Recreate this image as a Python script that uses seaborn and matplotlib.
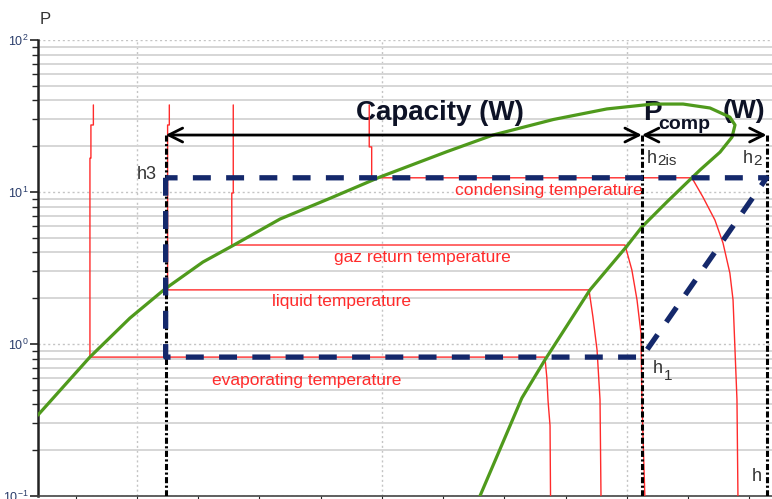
import numpy as np
import pandas as pd
import matplotlib
matplotlib.use('Agg')
import matplotlib.pyplot as plt
import seaborn as sns
from matplotlib.ticker import LogLocator, MultipleLocator, FixedLocator, NullFormatter

sns.set_style('white')
plt.rcParams['font.family'] = ['Liberation Sans', 'DejaVu Sans']

# Saturation curve (h in kJ/kg, P in bar)
dome_h = [159.6, 180.8, 197.1, 211.4, 226.9, 238.8, 258.4, 278.8, 299.2, 326.4, 345.3,
          370.0, 391.8, 410.6, 422.9, 433.9, 442.0, 444.1, 442.9, 438.0, 429.8, 416.3,
          406.1, 400.0, 384.9, 366.5, 357.1, 340.0]
dome_p = [0.341, 0.821, 1.48, 2.30, 3.46, 4.41, 6.64, 9.09, 12.55, 18.4, 23.7,
          30.0, 35.2, 37.9, 37.9, 35.7, 31.1, 27.6, 23.0, 18.3, 13.95, 8.60,
          5.89, 4.41, 2.27, 0.785, 0.441, 0.1]

# Isotherms
evap_h = [182.2, 182.2, 181.2, 181.2, 180.8, 180.8, 366.5, 367.3, 367.8, 368.6, 368.8]
evap_p = [37.4, 27.6, 27.6, 16.7, 16.7, 0.82, 0.82, 0.60, 0.42, 0.29, 0.1]
liq_h = [213.2, 213.2, 212.5, 212.5, 384.5, 386.1, 387.8, 389.0, 389.4]
liq_p = [37.4, 27.6, 27.6, 2.27, 2.27, 1.51, 0.91, 0.43, 0.1]
gaz_h = [239.3, 239.3, 238.7, 238.7, 399.2, 402.0, 404.1, 405.7, 406.1, 407.3]
gaz_p = [37.4, 9.85, 9.85, 4.48, 4.48, 3.07, 1.95, 1.18, 0.43, 0.1]
cond_h = [294.8, 294.8, 295.8, 295.8, 426.5, 431.0, 435.9, 439.2, 442.0, 443.3, 444.1, 444.9, 445.3]
cond_p = [37.4, 19.8, 19.8, 12.4, 12.4, 9.27, 6.54, 4.62, 2.93, 1.95, 0.91, 0.43, 0.1]

# Cycle
h1, h2, h3 = 406.1, 457.0, 211.7
p_evap, p_cond = 0.82, 12.4
p_arrow = 23.7
cycle_h = [h3, h3, h1, h2, h3]
cycle_p = [p_cond, p_evap, p_evap, p_cond, p_cond]

iso_labels = ["condensing temperature", "gaz return temperature",
              "liquid temperature", "evaporating temperature"]
iso_label_h = [368.2, 316.3, 283.5, 269.4]
iso_label_p = [9.55, 3.46, 1.78, 0.537]

fig = plt.figure(figsize=(7.72, 4.99), dpi=100)
ax = fig.add_axes([38/772, 3/499, (772-38)/772, 456/499])
ax.set_yscale('log')
ax.set_xlim(159.6, 459.2)
ax.set_ylim(0.1, 100)

# grid
ax.yaxis.set_major_locator(LogLocator(base=10, numticks=10))
ax.yaxis.set_minor_locator(LogLocator(base=10, subs=np.arange(2, 10), numticks=20))
ax.yaxis.set_minor_formatter(NullFormatter())
ax.xaxis.set_major_locator(FixedLocator([200, 300, 400]))
ax.xaxis.set_minor_locator(MultipleLocator(25))
ax.xaxis.set_major_formatter(NullFormatter())
ax.grid(which='minor', axis='y', color='#d6d6d6', lw=1.4, ls='-', zorder=0)
ax.grid(which='major', axis='y', color='#c4c4c4', lw=1.0, ls=(0, (1.5, 2)), zorder=0)
ax.grid(which='major', axis='x', color='#c4c4c4', lw=1.0, ls=(0, (1.5, 2)), zorder=0)
ax.set_axisbelow(True)

for s in ['top', 'right']:
    ax.spines[s].set_visible(False)
ax.spines['left'].set_linewidth(1.8)
ax.spines['left'].set_color('#222222')
ax.spines['bottom'].set_linewidth(1.2)
ax.spines['bottom'].set_color('#444444')
ax.tick_params(axis='y', which='major', length=6, width=1.2, direction='out',
               labelsize=9, labelcolor='#2a3d6b', pad=1, left=True)
ax.tick_params(axis='y', which='minor', length=4, width=1.0, direction='out', left=True)
ax.tick_params(axis='x', which='both', length=3, width=0.8, direction='out', bottom=True)

red = '#ff2b2b'
for hh, pp in [(evap_h, evap_p), (liq_h, liq_p), (gaz_h, gaz_p), (cond_h, cond_p)]:
    sns.lineplot(x=hh, y=pp, sort=False, estimator=None, color=red, lw=1.0, ax=ax, zorder=3)

sns.lineplot(x=dome_h, y=dome_p, sort=False, estimator=None, color='#4f9a1c', lw=2.3, ax=ax, zorder=4)

# black dash-dot verticals
for hx in [h3, h1, h2]:
    ax.plot([hx, hx], [p_arrow, 0.1], color='black', lw=2.2,
            ls=(0, (2, 0.8, 0.7, 0.8)), zorder=5)

# cycle
sns.lineplot(x=cycle_h, y=cycle_p, sort=False, estimator=None, color='#14286b',
             lw=3.8, ax=ax, zorder=6, dashes=False)
ax.lines[-1].set_linestyle((0, (3.4, 2.9)))

# arrows
arrow_kw = dict(arrowstyle='<->,head_length=0.5,head_width=0.25', lw=2, color='black',
                shrinkA=0, shrinkB=0, mutation_scale=20)
ax.annotate('', xy=(h1, p_arrow), xytext=(h3, p_arrow), arrowprops=arrow_kw, zorder=7)
ax.annotate('', xy=(h2, p_arrow), xytext=(h1, p_arrow), arrowprops=arrow_kw, zorder=7)

dark = '#0d1226'
ax.text(323.7, 29.8, 'Capacity (W)', fontsize=20, fontweight='bold', ha='center',
        va='baseline', color=dark, zorder=2)
ax.text(406.8, 29.8, 'P', fontsize=20, fontweight='bold', ha='left', va='baseline', color=dark, zorder=2)
ax.text(412.8, 26.0, 'comp', fontsize=14, fontweight='bold', ha='left', va='baseline', color=dark, zorder=2)
ax.text(439.0, 30.5, '(W)', fontsize=19, fontweight='bold', ha='left', va='baseline', color=dark, zorder=2)

for lab, lh, lp in zip(iso_labels, iso_label_h, iso_label_p):
    ax.text(lh, lp, lab, fontsize=12.5, color=red, ha='center', va='baseline', zorder=8)

gray = '#333333'
ax.text(200.0, 12.2, 'h3', fontsize=13, color=gray, ha='left', va='baseline', zorder=8)
ax.text(408.2, 15.5, 'h', fontsize=13, color=gray, ha='left', va='baseline', zorder=8)
ax.text(412.4, 15.0, '2is', fontsize=11, color=gray, ha='left', va='baseline', zorder=8)
ax.text(447.3, 15.5, 'h', fontsize=13, color=gray, ha='left', va='baseline', zorder=8)
ax.text(451.5, 15.0, '2', fontsize=11, color=gray, ha='left', va='baseline', zorder=8)
ax.text(410.6, 0.644, 'h', fontsize=13, color=gray, ha='left', va='baseline', zorder=8)
ax.text(415.0, 0.58, '1', fontsize=11, color=gray, ha='left', va='baseline', zorder=8)
ax.text(451.0, 0.1255, 'h', fontsize=13, color=gray, ha='left', va='baseline', zorder=8)

fig.text(40/772, 1 - 19/499, 'P', fontsize=12, color=gray, ha='left', va='center')

fig.savefig('out.png', dpi=100)
